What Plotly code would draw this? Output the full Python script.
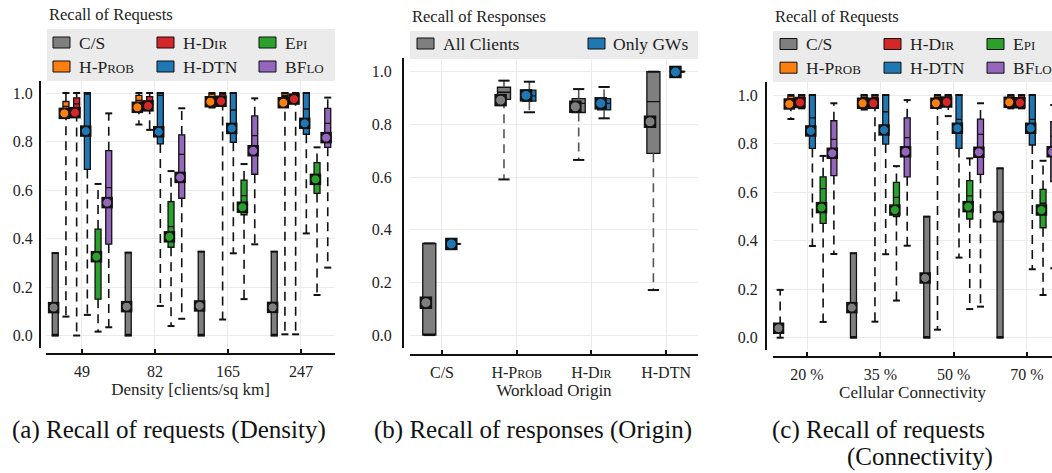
import plotly.graph_objects as go

W, H = 1052, 473
FONT = "Liberation Serif"

# ---------------- data ----------------
# Panel (a): Recall of requests vs density
density_ticks = ["49", "82", "165", "247"]
req_series = ["C/S", "H-Prob", "H-Dir", "H-DTN", "Epi", "BFlo"]
req_colors = ["#7f7f7f", "#ff7f0e", "#d62728", "#1f77b4", "#2ca02c", "#9467bd"]

a_q1 = [[0, 0, 0, 0], [0.925, 0.95, 0.975, 0.985], [0.92, 0.95, 0.965, 0.985],
        [0.685, 0.79, 0.797, 0.83], [0.15, 0.364, 0.498, 0.586], [0.377, 0.566, 0.665, 0.776]]
a_med = [[0, 0, 0, 0], [0.945, 0.97, 0.985, 0.99], [0.955, 0.965, 0.985, 0.995],
         [1.0, 0.99, 0.93, 0.934], [0.32, 0.449, 0.577, 0.65], [0.61, 0.747, 0.824, 0.875]]
a_q3 = [[0.34, 0.342, 0.346, 0.346], [0.965, 0.99, 0.995, 1.0], [0.98, 0.985, 0.995, 1.0],
        [1.0, 1.0, 1.0, 1.0], [0.439, 0.552, 0.641, 0.713], [0.762, 0.827, 0.906, 0.937]]
a_lo = [[0, 0, 0, 0], [0.078, 0.87, 0.94, 0.005], [0.0, 0.848, 0.066, 0.005],
        [0.085, 0.122, 0.339, 0.421], [0.016, 0.039, 0.15, 0.167], [0.034, 0.069, 0.376, 0.28]]
a_hi = [[0.34, 0.342, 0.346, 0.346], [1, 1, 1, 1], [1, 1, 1, 1],
        [1, 1, 1, 1], [0.625, 0.678, 0.707, 0.776], [0.916, 0.937, 0.978, 0.981]]
a_mean = [[0.115, 0.119, 0.122, 0.116], [0.916, 0.941, 0.964, 0.96], [0.919, 0.947, 0.966, 0.975],
          [0.843, 0.84, 0.854, 0.875], [0.325, 0.407, 0.529, 0.644], [0.548, 0.652, 0.762, 0.816]]

# Panel (b): Recall of responses vs workload origin
origin_ticks = ["C/S", "H-Prob", "H-Dir", "H-DTN"]
resp_series = ["All Clients", "Only GWs"]
resp_colors = ["#7f7f7f", "#1f77b4"]
b_q1 = [[0, 0.895, 0.845, 0.69], [0.346, 0.888, 0.855, 1.0]]
b_med = [[0, 0.922, 0.88, 0.886], [0.346, 0.908, 0.88, 1.0]]
b_q3 = [[0.348, 0.941, 0.898, 1.0], [0.346, 0.93, 0.898, 1.0]]
b_lo = [[0, 0.591, 0.665, 0.171], [0.346, 0.846, 0.823, 1.0]]
b_hi = [[0.348, 0.966, 0.934, 1.0], [0.346, 0.962, 0.942, 1.0]]
b_mean = [[0.123, 0.892, 0.867, 0.81], [0.346, 0.91, 0.88, 0.999]]

# Panel (c): Recall of requests vs cellular connectivity
conn_ticks = ["20 %", "35 %", "50 %", "70 %"]
c_q1 = [[0.02, 0, 0, 0], [0.97, 0.975, 0.975, 0.98], [0.975, 0.97, 0.975, 0.975],
        [0.78, 0.798, 0.78, 0.794], [0.471, 0.499, 0.489, 0.453], [0.668, 0.663, 0.673, 0.643]]
c_med = [[0.035, 0, 0, 0], [0.985, 0.99, 0.99, 0.99], [0.99, 0.99, 0.99, 0.99],
         [0.906, 0.931, 0.9, 0.9], [0.614, 0.578, 0.584, 0.554], [0.817, 0.824, 0.838, 0.83]]
c_q3 = [[0.05, 0.348, 0.499, 0.698], [0.995, 0.998, 0.998, 0.998], [1, 1, 1, 1],
        [1, 1, 1, 1], [0.663, 0.64, 0.647, 0.611], [0.894, 0.906, 0.901, 0.89]]
c_lo = [[0, 0, 0, 0], [0.901, 0.94, 0.033, 0.945], [0.945, 0.066, 0.913, 0.945],
        [0.378, 0.344, 0.33, 0.282], [0.065, 0.153, 0.118, 0.176], [0.345, 0.379, 0.128, 0.286]]
c_hi = [[0.197, 0.348, 0.499, 0.698], [1, 1, 1, 1], [1, 1, 1, 1],
        [1, 1, 1, 1], [0.749, 0.707, 0.739, 0.729], [0.966, 0.979, 0.966, 0.959]]
c_mean = [[0.039, 0.124, 0.246, 0.498], [0.963, 0.966, 0.966, 0.97], [0.969, 0.966, 0.971, 0.968],
          [0.852, 0.856, 0.863, 0.863], [0.536, 0.526, 0.54, 0.526], [0.76, 0.766, 0.764, 0.766]]

y_ticks = [0.0, 0.2, 0.4, 0.6, 0.8, 1.0]


def sc(text, size):
    """small caps helper: 'H-P|rob|' -> H-P + smaller uppercase 'ROB'."""
    out = ""
    for i, part in enumerate(text.split("|")):
        out += part if i % 2 == 0 else f"<span style='font-size:{size}px'>{part.upper()}</span>"
    return out


req_label_src = ["C/S", "H-P|rob|", "H-D|ir|", "H-DTN", "E|pi|", "BF|lo|"]
origin_label_src = ["C/S", "H-P|rob|", "H-D|ir|", "H-DTN"]

# ---------------- layout geometry (pixels) ----------------
panels = [
    dict(x0=46, x1=335, y0=81, y1=348, xline=354, yline=40, xr=[-0.493, 3.466], yr=[-0.0515, 1.0495], ys=3),
    dict(x0=410, x1=698, y0=58, y1=348, xline=355, yline=403, xr=[-0.428, 3.427], yr=[-0.049, 1.052], ys=7),
    dict(x0=773, x1=1052, y0=82, y1=350, xline=357, yline=766, xr=[-0.464, 3.342], yr=[-0.0507, 1.0536], ys=4),
]


def fx(p):
    return p / W


def fy(p):
    return 1 - p / H


fig = go.Figure()


def add_boxes(axn, q1s, meds, q3s, los, his, means, colors, step, bw, moff, capsize, wcolor, msz):
    xa = "x" if axn == 1 else f"x{axn}"
    ya = "y" if axn == 1 else f"y{axn}"
    n = len(q1s)
    for j in range(n):
        off = (j - (n - 1) / 2) * step
        pos = [g + off for g in range(len(q1s[j]))]
        # whiskers (dashed)
        wx, wy = [], []
        for k, p in enumerate(pos):
            wx += [p, p, None, p, p, None]
            wy += [q3s[j][k], his[j][k], None, q1s[j][k], los[j][k], None]
        fig.add_trace(go.Scatter(x=wx, y=wy, mode="lines", xaxis=xa, yaxis=ya,
                                 line=dict(color=wcolor, width=1.6, dash="9px,6px"),
                                 showlegend=False, hoverinfo="skip"))
        capx = pos + pos
        capy = his[j] + los[j]
        fig.add_trace(go.Scatter(x=capx, y=capy, mode="markers", xaxis=xa, yaxis=ya,
                                 marker=dict(symbol="line-ew", size=capsize,
                                             line=dict(color="#111", width=2)),
                                 showlegend=False, hoverinfo="skip"))
        fig.add_trace(go.Box(x=pos, q1=q1s[j], median=meds[j], q3=q3s[j],
                             lowerfence=q1s[j], upperfence=q3s[j], width=bw,
                             orientation="v", whiskerwidth=0, boxpoints=False,
                             fillcolor=colors[j], line=dict(color="#111", width=1.3),
                             xaxis=xa, yaxis=ya, showlegend=False, hoverinfo="skip"))
        mx = [p + moff for p in pos]
        fig.add_trace(go.Scatter(x=mx, y=means[j], mode="markers", xaxis=xa, yaxis=ya,
                                 marker=dict(symbol="square", size=msz + 2.5, color="#111"),
                                 showlegend=False, hoverinfo="skip"))
        fig.add_trace(go.Scatter(x=mx, y=means[j], mode="markers", xaxis=xa, yaxis=ya,
                                 marker=dict(symbol="circle", size=msz, color=colors[j],
                                             line=dict(color="#111", width=1)),
                                 showlegend=False, hoverinfo="skip"))


add_boxes(1, a_q1, a_med, a_q3, a_lo, a_hi, a_mean, req_colors, 0.1466, 0.082, -0.022, 5, "#111", 9)
add_boxes(2, b_q1, b_med, b_q3, b_lo, b_hi, b_mean, resp_colors, 0.34, 0.175, -0.045, 8, "#555", 10)
add_boxes(3, c_q1, c_med, c_q3, c_lo, c_hi, c_mean, req_colors, 0.1466, 0.082, -0.022, 5, "#111", 9)

tick_sets = [
    (density_ticks, "Density [clients/sq km]"),
    ([sc(s, 12) for s in origin_label_src], "Workload Origin"),
    (conn_ticks, "Cellular Connectivity"),
]

tick_font = dict(family=FONT, size=16, color="#222")
title_font = dict(family=FONT, size=17, color="#222")
for i, p in enumerate(panels):
    sfx = "" if i == 0 else str(i + 1)
    ticks, title = tick_sets[i]
    fig.update_layout(**{
        f"xaxis{sfx}": dict(
            domain=[fx(p["x0"]), fx(p["x1"])], anchor="free", position=fy(p["xline"]),
            range=p["xr"], tickmode="array", tickvals=list(range(len(ticks))), ticktext=ticks,
            showgrid=True, gridcolor="#ebebeb", gridwidth=1, zeroline=False,
            showline=True, linecolor="#111", linewidth=2,
            ticks="inside", ticklen=4, tickwidth=1.5, tickcolor="#111",
            tickfont=tick_font, ticklabelstandoff=3,
            title=dict(text=title, font=title_font, standoff=0),
        ),
        f"yaxis{sfx}": dict(
            domain=[fy(p["y1"]), fy(p["y0"])], anchor="free", position=fx(p["yline"]),
            range=p["yr"], tickmode="array", tickvals=y_ticks,
            ticktext=[f"{v:.1f}" for v in y_ticks],
            showgrid=True, gridcolor="#ebebeb", gridwidth=1, zeroline=False,
            showline=True, linecolor="#111", linewidth=2, ticks="",
            tickfont=tick_font, ticklabelstandoff=p["ys"],
        ),
    })

# ---------------- legends (drawn) ----------------
shapes, annotations = [], []
legend_font = dict(family=FONT, size=17.5, color="#222")


def legend_block(bg, title, title_y, labels, colors, col_sw, col_tx, rows):
    shapes.append(dict(type="rect", xref="paper", yref="paper", layer="below",
                       x0=fx(bg[0]), x1=fx(bg[1]), y0=fy(bg[3]), y1=fy(bg[2]),
                       fillcolor="#ebebeb", line=dict(width=0)))
    annotations.append(dict(text=title, xref="paper", yref="paper", x=fx(bg[0]), y=fy(title_y),
                            xanchor="left", yanchor="middle", showarrow=False,
                            font=dict(family=FONT, size=16.5, color="#222")))
    nrows = len(rows)
    for j, lab in enumerate(labels):
        col, row = j // nrows, j % nrows
        yc = rows[row]
        shapes.append(dict(type="rect", xref="paper", yref="paper",
                           x0=fx(col_sw[col]), x1=fx(col_sw[col] + 17),
                           y0=fy(yc + 5.5), y1=fy(yc - 5.5),
                           fillcolor=colors[j], line=dict(color="#111", width=1)))
        annotations.append(dict(text=lab, xref="paper", yref="paper", x=fx(col_tx[col]), y=fy(yc),
                                xanchor="left", yanchor="middle", showarrow=False, font=legend_font))


req_legend_labels = [sc(s, 13) for s in req_label_src]
legend_block((47, 335, 29, 81), "Recall of Requests", 14, req_legend_labels, req_colors,
             [53, 157, 259], [77, 181, 283], [42.5, 66.5])
legend_block((410, 698, 31, 59), "Recall of Responses", 16, resp_series, resp_colors,
             [417, 588], [441, 611], [43.5])
legend_block((773, 1060, 31, 82), "Recall of Requests", 16, req_legend_labels, req_colors,
             [780, 884, 987], [804, 908, 1011], [44, 67.7])

# ---------------- captions ----------------
cap_font = dict(family=FONT, size=25, color="#111")
captions = [("(a) Recall of requests (Density)", 169, 430),
            ("(b) Recall of responses (Origin)", 533, 430),
            ("(c) Recall of requests", 878, 430),
            ("(Connectivity)", 920, 457)]
for txt, cx, cy in captions:
    annotations.append(dict(text=txt, xref="paper", yref="paper", x=fx(cx), y=fy(cy),
                            xanchor="center", yanchor="middle", showarrow=False, font=cap_font))

fig.update_layout(
    width=W, height=H, margin=dict(l=0, r=0, t=0, b=0),
    paper_bgcolor="white", plot_bgcolor="white",
    boxmode="overlay", showlegend=False,
    font=dict(family=FONT, color="#222"),
    shapes=shapes, annotations=annotations,
)

fig.write_html("out.html")
